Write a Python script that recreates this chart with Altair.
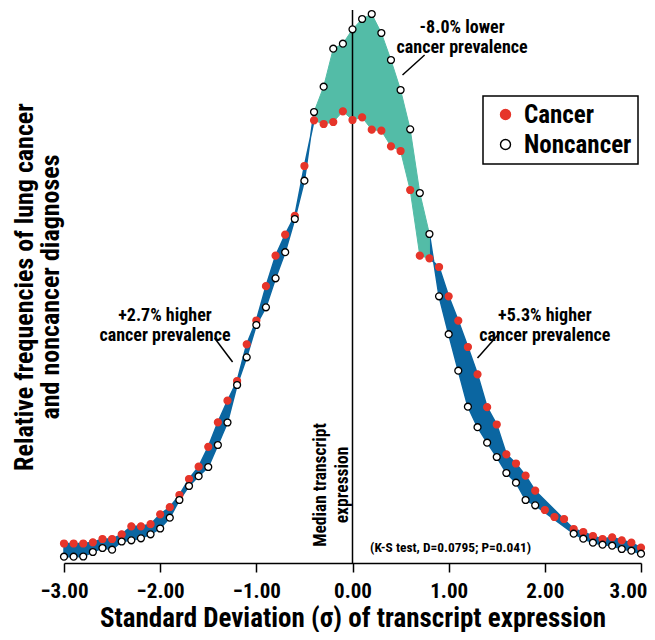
import altair as alt
import pandas as pd

FONT = "Roboto Condensed, Liberation Sans, Arial, sans-serif"
BLUE = "#0b66a1"
TEAL = "#53bca7"
RED = "#e6352a"

sd = [-3.0, -2.9, -2.8, -2.7, -2.6, -2.5, -2.4, -2.3, -2.2, -2.1,
      -2.0, -1.9, -1.8, -1.7, -1.6, -1.5, -1.4, -1.3, -1.2, -1.1,
      -1.0, -0.9, -0.8, -0.7, -0.6, -0.5, -0.4, -0.3, -0.2, -0.1,
      0.0, 0.1, 0.2, 0.3, 0.4, 0.5, 0.6, 0.7, 0.8, 0.9,
      1.0, 1.1, 1.2, 1.3, 1.4, 1.5, 1.6, 1.7, 1.8, 1.9,
      2.0, 2.1, 2.2, 2.3, 2.4, 2.5, 2.6, 2.7, 2.8, 2.9, 3.0]

cancer = [1.95, 1.95, 1.95, 2.07, 2.40, 2.40, 2.87, 3.67, 3.67, 3.88,
          4.87, 5.58, 6.80, 8.40, 9.63, 11.62, 14.07, 16.23, 18.20, 21.87,
          24.25, 27.68, 30.73, 32.83, 34.72, 39.70, 44.27, 43.90, 44.10, 45.17,
          44.30, 44.57, 43.33, 43.23, 41.67, 41.20, 37.30, 30.73, 30.47, 29.60,
          26.67, 24.23, 21.60, 18.87, 15.58, 13.85, 10.87, 9.95, 8.73, 7.23,
          5.30, 4.60, 4.40, 3.40, 3.10, 2.70, 2.40, 2.57, 2.27, 2.03, 1.53]

noncancer = [0.63, 0.63, 0.65, 1.10, 1.50, 1.33, 2.15, 2.27, 2.47, 2.87,
             3.45, 4.53, 6.30, 7.70, 8.68, 9.60, 11.80, 14.05, 17.80, 20.57,
             23.80, 25.57, 28.47, 31.08, 34.40, 38.23, 45.10, 47.63, 51.43, 51.93,
             53.37, 54.40, 54.90, 53.00, 50.30, 47.30, 43.37, 37.00, 32.90, 26.67,
             22.88, 19.23, 15.63, 13.58, 12.03, 10.60, 9.00, 8.03, 6.30, 5.77,
             None, None, None, 2.93, 2.43, 2.03, 1.83, 1.73, 1.40, 1.23, 0.93]

series_names = ["Cancer", "Noncancer"]

df = pd.DataFrame({"sd": sd, "cancer": cancer, "noncancer": noncancer})

# Fill segments: runs where noncancer > cancer (teal) vs cancer >= noncancer (blue)
rows = df.dropna().reset_index(drop=True)
flag = (rows["noncancer"] > rows["cancer"]).tolist()
runs = []
start = 0
for i in range(1, len(flag) + 1):
    if i == len(flag) or flag[i] != flag[start]:
        runs.append((start, i - 1, flag[start]))
        start = i
parts = []
for k, (s, e, f) in enumerate(runs):
    if not f:
        s2, e2 = max(s - 1, 0), min(e + 1, len(rows) - 1)
    else:
        s2, e2 = s, e
    seg = rows.iloc[s2:e2 + 1].copy()
    seg["seg"] = k
    seg["lower"] = bool(f)
    parts.append(seg)
area_df = pd.concat(parts, ignore_index=True)

pts = pd.concat([
    df[["sd", "cancer"]].rename(columns={"cancer": "val"}).assign(series=series_names[0]),
    df[["sd", "noncancer"]].rename(columns={"noncancer": "val"}).assign(series=series_names[1]),
]).dropna()

x_enc = alt.X("sd:Q",
              scale=alt.Scale(domain=[-3, 3], nice=False, zero=False),
              axis=alt.Axis(values=[-3, -2, -1, 0, 1, 2, 3], format=".2f",
                            title="Standard Deviation (σ) of transcript expression",
                            labelFont=FONT, titleFont=FONT, labelFontSize=21, titleFontSize=27,
                            labelFontWeight="bold", titleFontWeight="bold",
                            labelColor="black", titleColor="black",
                            labelOverlap=False,
                            labelAlign={"condition": {"test": "datum.value == 3", "value": "right"}, "value": "center"},
                            labelOffset={"condition": {"test": "datum.value == 3", "value": 6}, "value": 0},
                            tickSize=9, tickWidth=1.5, tickColor="black",
                            domainColor="black", domainWidth=1.5, grid=False,
                            labelPadding=8, titlePadding=4))
y_scale = alt.Scale(domain=[0, 55.3], nice=False, zero=True)
y_enc = alt.Y("cancer:Q", scale=y_scale,
              axis=alt.Axis(title=["Relative frequencies of lung cancer", "and noncancer diagnoses"],
                            labels=False, ticks=False, domain=False, grid=False,
                            titleFont=FONT, titleFontSize=26, titleFontWeight="bold",
                            titleColor="black", titlePadding=1, titleLineHeight=26))

area_blue = alt.Chart(area_df).transform_filter("!datum.lower").mark_area(
    color=BLUE, stroke=BLUE, strokeWidth=1.5, opacity=1
).encode(x=x_enc, y=y_enc, y2="noncancer:Q", detail="seg:N")

area_teal = alt.Chart(area_df).transform_filter("datum.lower").mark_area(
    color=TEAL, stroke=TEAL, strokeWidth=1, opacity=1
).encode(x="sd:Q", y=alt.Y("cancer:Q", scale=y_scale), y2="noncancer:Q", detail="seg:N")

vline = alt.Chart(pd.DataFrame({"sd": [0.0]})).mark_rule(color="black", strokeWidth=1.5).encode(x="sd:Q")

leg = alt.Legend(title=None, orient="none", legendX=419, legendY=86,
                 labelFont=FONT, labelFontSize=25, labelFontWeight="bold", labelColor="black",
                 symbolSize=100, symbolStrokeWidth=1.4, padding=6, rowPadding=4,
                 symbolOffset=4, strokeColor="black", labelOffset=6)
points = alt.Chart(pts).mark_point(shape="circle", filled=True, size=48, strokeWidth=1.3, opacity=1).encode(
    x="sd:Q",
    y=alt.Y("val:Q", scale=y_scale),
    fill=alt.Fill("series:N", scale=alt.Scale(domain=series_names, range=[RED, "white"]), legend=leg),
    stroke=alt.Stroke("series:N", scale=alt.Scale(domain=series_names, range=[RED, "black"]), legend=leg),
    order=alt.Order("series:N"),
)

ann_x = [1.14, -1.95, 2.0]
ann_y = [53.5, 24.7, 24.7]
ann_t = ["-8.0% lower\ncancer prevalence", "+2.7% higher\ncancer prevalence", "+5.3% higher\ncancer prevalence"]
ann = alt.Chart(pd.DataFrame({"x": ann_x, "y": ann_y, "t": ann_t})).mark_text(
    font=FONT, fontSize=18, fontWeight="bold", color="black", lineBreak="\n", lineHeight=20,
    align="center", baseline="middle"
).encode(x="x:Q", y=alt.Y("y:Q", scale=y_scale), text="t:N")

lead_x = [0.75, -1.435, 1.53]
lead_x2 = [0.52, -1.247, 1.30]
lead_y = [50.8, 22.5, 23.0]
lead_y2 = [48.8, 20.1, 20.5]
leaders = alt.Chart(pd.DataFrame({"x": lead_x, "x2": lead_x2, "y": lead_y, "y2": lead_y2})).mark_rule(
    color="black", strokeWidth=1.5
).encode(x="x:Q", x2="x2:Q", y=alt.Y("y:Q", scale=y_scale), y2="y2:Q")

median = alt.Chart(pd.DataFrame({"x": [-0.33], "y": [7.8], "t": ["Median transcript\nexpression"]})).mark_text(
    font=FONT, fontSize=17.5, fontWeight="bold", color="black", lineBreak="\n", lineHeight=22,
    align="center", baseline="middle", angle=270
).encode(x="x:Q", y=alt.Y("y:Q", scale=y_scale), text="t:N")

ks = alt.Chart(pd.DataFrame({"x": [1.02], "y": [1.47], "t": ["(K-S test, D=0.0795; P=0.041)"]})).mark_text(
    font=FONT, fontSize=13.4, fontWeight="bold", color="black", align="center", baseline="middle"
).encode(x="x:Q", y=alt.Y("y:Q", scale=y_scale), text="t:N")

chart = alt.layer(area_blue, area_teal, vline, points, ann, leaders, median, ks).properties(
    width=577, height=553,
    autosize=alt.AutoSizeParams(type="none"),
    padding={"left": 56, "top": 2, "right": 6, "bottom": 69},
).configure_view(stroke=None).configure_legend(strokeWidth=1.5)

chart.save("out.html", embed_options={"renderer": "svg", "actions": False})
